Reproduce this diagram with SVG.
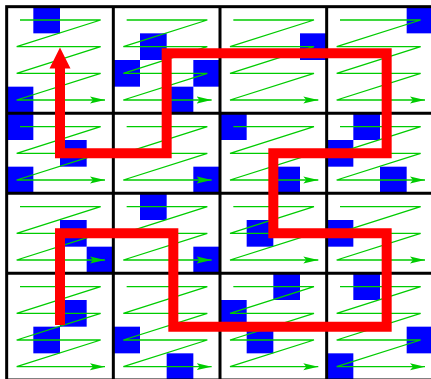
<svg xmlns="http://www.w3.org/2000/svg" xmlns:xlink="http://www.w3.org/1999/xlink" width="431" height="379" viewBox="0 0 431 379">
  <style>
    .px { fill: #0000ff; }
    .zz { fill: none; stroke: #00cc00; stroke-width: 1.3; stroke-linejoin: bevel; marker-end: url(#ga); }
    .grid { fill: none; stroke: #000000; stroke-width: 3; }
    .route { fill: none; stroke: #ff0000; stroke-width: 10; stroke-linejoin: miter; stroke-linecap: butt; }
  </style>
  <defs>
    <marker id="ga" markerUnits="userSpaceOnUse" markerWidth="16" markerHeight="8" refX="15" refY="4" orient="auto" viewBox="0 0 16 8">
      <path d="M0,0.5 L15,4 L0,7.5 L3,4 Z" fill="#00cc00"/>
    </marker>
    <path id="z4" class="zz" d="M13.33,13.33 H94 L10,40 H94 L10,66.67 H94 L10,93.33 H98.3"/>
    <path id="z3" class="zz" d="M13.33,13.33 H94 L10,40 H94 L10,66.67 H98.3"/>
  </defs>
  <rect x="0" y="0" width="431" height="379" fill="#ffffff"/>

  <g id="pixels">
    <rect class="px" x="33.33" y="6.67" width="26.67" height="26.67"/>
    <rect class="px" x="406.67" y="6.67" width="26.67" height="26.67"/>
    <rect class="px" x="140" y="33.33" width="26.67" height="26.67"/>
    <rect class="px" x="300" y="33.33" width="26.67" height="26.67"/>
    <rect class="px" x="113.33" y="60" width="26.67" height="26.67"/>
    <rect class="px" x="193.33" y="60" width="26.67" height="26.67"/>
    <rect class="px" x="6.67" y="86.67" width="26.67" height="26.67"/>
    <rect class="px" x="166.67" y="86.67" width="26.67" height="26.67"/>
    <rect class="px" x="6.67" y="113.33" width="26.67" height="26.67"/>
    <rect class="px" x="220" y="113.33" width="26.67" height="26.67"/>
    <rect class="px" x="353.33" y="113.33" width="26.67" height="26.67"/>
    <rect class="px" x="60" y="140" width="26.67" height="26.67"/>
    <rect class="px" x="326.67" y="140" width="26.67" height="26.67"/>
    <rect class="px" x="6.67" y="166.67" width="26.67" height="26.67"/>
    <rect class="px" x="193.33" y="166.67" width="26.67" height="26.67"/>
    <rect class="px" x="273.33" y="166.67" width="26.67" height="26.67"/>
    <rect class="px" x="380" y="166.67" width="26.67" height="26.67"/>
    <rect class="px" x="140" y="193.33" width="26.67" height="26.67"/>
    <rect class="px" x="60" y="220" width="26.67" height="26.67"/>
    <rect class="px" x="246.67" y="220" width="26.67" height="26.67"/>
    <rect class="px" x="326.67" y="220" width="26.67" height="26.67"/>
    <rect class="px" x="86.67" y="246.67" width="26.67" height="26.67"/>
    <rect class="px" x="193.33" y="246.67" width="26.67" height="26.67"/>
    <rect class="px" x="273.33" y="273.33" width="26.67" height="26.67"/>
    <rect class="px" x="353.33" y="273.33" width="26.67" height="26.67"/>
    <rect class="px" x="60" y="300" width="26.67" height="26.67"/>
    <rect class="px" x="220" y="300" width="26.67" height="26.67"/>
    <rect class="px" x="33.33" y="326.67" width="26.67" height="26.67"/>
    <rect class="px" x="113.33" y="326.67" width="26.67" height="26.67"/>
    <rect class="px" x="246.67" y="326.67" width="26.67" height="26.67"/>
    <rect class="px" x="406.67" y="326.67" width="26.67" height="26.67"/>
    <rect class="px" x="166.67" y="353.33" width="26.67" height="26.67"/>
    <rect class="px" x="326.67" y="353.33" width="26.67" height="26.67"/>
  </g>

  <g id="scans">
    <use xlink:href="#z4" x="6.67" y="6.67"/>
    <use xlink:href="#z4" x="113.33" y="6.67"/>
    <use xlink:href="#z4" x="220" y="6.67"/>
    <use xlink:href="#z4" x="326.67" y="6.67"/>
    <use xlink:href="#z3" x="6.67" y="113.33"/>
    <use xlink:href="#z3" x="113.33" y="113.33"/>
    <use xlink:href="#z3" x="220" y="113.33"/>
    <use xlink:href="#z3" x="326.67" y="113.33"/>
    <use xlink:href="#z3" x="6.67" y="193.33"/>
    <use xlink:href="#z3" x="113.33" y="193.33"/>
    <use xlink:href="#z3" x="220" y="193.33"/>
    <use xlink:href="#z3" x="326.67" y="193.33"/>
    <use xlink:href="#z4" x="6.67" y="273.33"/>
    <use xlink:href="#z4" x="113.33" y="273.33"/>
    <use xlink:href="#z4" x="220" y="273.33"/>
    <use xlink:href="#z4" x="326.67" y="273.33"/>
  </g>

  <g id="grid">
    <rect class="grid" x="6.67" y="6.67" width="426.67" height="373.33"/>
    <path class="grid" d="M113.33,6.67 V380 M220,6.67 V380 M326.67,6.67 V380 M6.67,113.33 H433.33 M6.67,193.33 H433.33 M6.67,273.33 H433.33"/>
  </g>

  <g id="connectors">
    <path class="route" d="M60,325 V233.33 H173.33 V326.67 H386.67 V233.33 H273.33 V153.33 H386.67 V53.33 H166.67 V153.33 H60 V67"/>
    <polygon points="49.5,68.5 60,47.5 70.5,68.5" fill="#ff0000"/>
  </g>
</svg>
